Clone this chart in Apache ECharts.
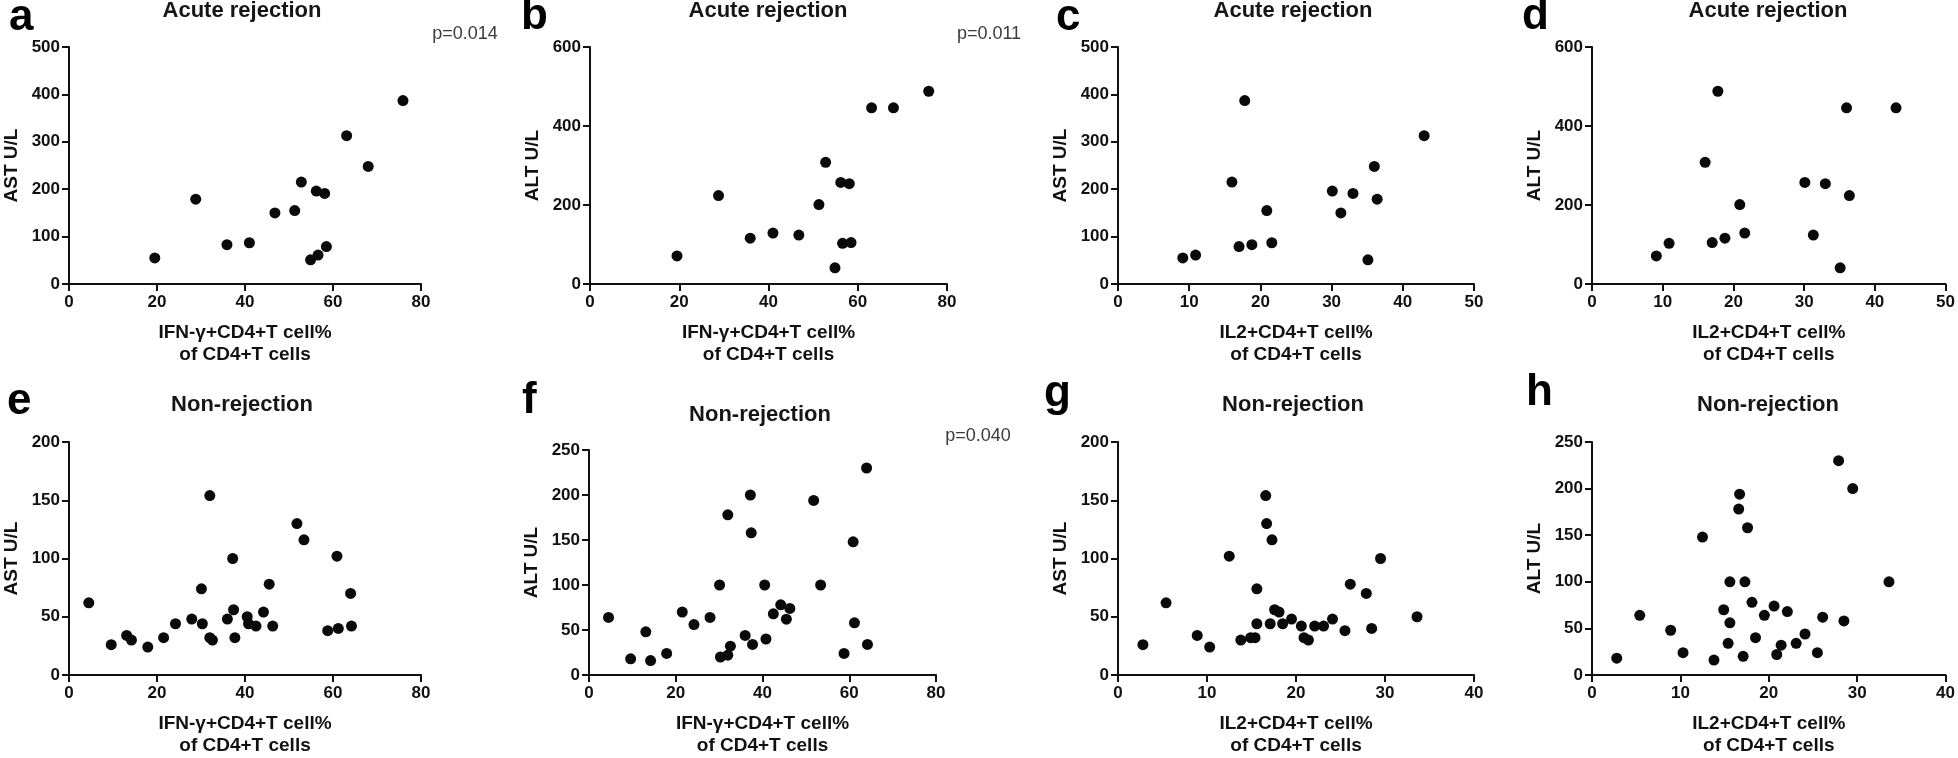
<!DOCTYPE html>
<html>
<head>
<meta charset="utf-8">
<script src="https://cdn.jsdelivr.net/npm/echarts@6/dist/echarts.min.js"></script>
<style>
html,body{margin:0;padding:0;background:#fff;}
#chart{width:1958px;height:758px;}
</style>
</head>
<body>
<div id="chart"></div>
<script>
// ---- Acute rejection group (15 patients) ----
const AR_IFN = [19.5, 28.8, 35.9, 41.0, 46.8, 51.3, 52.8, 56.2, 58.1, 54.9, 56.6, 58.5, 63.1, 68.0, 75.9];
const AR_IL2 = [9.1, 36.4, 18.8, 21.6, 31.3, 20.9, 16.0, 30.1, 33.0, 35.1, 10.9, 17.0, 43.0, 36.0, 17.8];
const AR_AST = [55, 179, 83, 87, 150, 155, 215, 196, 191, 51, 61, 79, 313, 248, 387];
const AR_ALT = [71, 224, 116, 129, 124, 201, 308, 257, 254, 41, 103, 105, 446, 446, 488];

// ---- Non-rejection group (30 patients) ----
const NR_IFN = [4.5, 9.6, 13.1, 14.2, 17.9, 21.5, 24.2, 27.9, 30.1, 30.3, 32.0, 32.0, 32.6, 36.0, 37.2, 37.4, 37.7, 40.5, 40.8, 42.5, 44.2, 45.5, 46.3, 51.8, 53.4, 58.8, 60.9, 61.2, 64.0, 64.2];
const NR_IL2 = [5.4, 2.8, 8.9, 13.8, 10.3, 14.9, 15.6, 19.5, 15.6, 17.1, 16.6, 20.9, 21.4, 24.1, 29.5, 17.6, 15.4, 33.6, 18.5, 22.1, 18.1, 26.1, 20.6, 16.7, 17.3, 25.5, 12.5, 28.5, 27.9, 23.1];
const NR_AST = [62, 26, 34, 30, 24, 32, 44, 48, 74, 44, 154, 32, 30, 48, 100, 56, 32, 50, 44, 42, 54, 78, 42, 130, 116, 38, 102, 40, 70, 42];
const NR_ALT = [64, 18, 48, 16, 24, 70, 56, 64, 100, 20, 178, 22, 32, 44, 200, 158, 34, 100, 40, 68, 78, 62, 74, 194, 100, 24, 148, 58, 230, 34];

// ---- Text ----
const LETTERS = ['a','b','c','d','e','f','g','h'];
const TITLES = ['Acute rejection','Acute rejection','Acute rejection','Acute rejection','Non-rejection','Non-rejection','Non-rejection','Non-rejection'];
const X_NAMES = ['IFN-γ+CD4+T cell%\nof CD4+T cells','IFN-γ+CD4+T cell%\nof CD4+T cells','IL2+CD4+T cell%\nof CD4+T cells','IL2+CD4+T cell%\nof CD4+T cells',
                 'IFN-γ+CD4+T cell%\nof CD4+T cells','IFN-γ+CD4+T cell%\nof CD4+T cells','IL2+CD4+T cell%\nof CD4+T cells','IL2+CD4+T cell%\nof CD4+T cells'];
const Y_NAMES = ['AST U/L','ALT U/L','AST U/L','ALT U/L','AST U/L','ALT U/L','AST U/L','ALT U/L'];
const P_VALUES = ['p=0.014','p=0.011','','','','p=0.040','',''];

// ---- Axis scales (max / interval) ----
const X_MAX = [80, 80, 50, 50, 80, 80, 40, 40];
const X_INT = [20, 20, 10, 10, 20, 20, 10, 10];
const Y_MAX = [500, 600, 500, 600, 200, 250, 200, 250];
const Y_INT = [100, 200, 100, 200, 50, 50, 50, 50];

const PANEL_X = [AR_IFN, AR_IFN, AR_IL2, AR_IL2, NR_IFN, NR_IFN, NR_IL2, NR_IL2];
const PANEL_Y = [AR_AST, AR_ALT, AR_AST, AR_ALT, NR_AST, NR_ALT, NR_AST, NR_ALT];

// ---- Layout (pixels) ----
const GRIDS = [
  {left: 65,   top: 47,  width: 356, height: 237},
  {left: 590,  top: 47,  width: 357, height: 237},
  {left: 1118, top: 47,  width: 356, height: 237},
  {left: 1592, top: 47,  width: 355, height: 237},
  {left: 64,   top: 442, width: 357, height: 237},
  {left: 589,  top: 450, width: 347, height: 232},
  {left: 1118, top: 442, width: 356, height: 237},
  {left: 1592, top: 442, width: 355, height: 237}
];
const LETTER_POS = [[9,18],[521,17],[1056,18],[1522,17],[7,402],[522,401],[1044,394],[1526,393]];
const TITLE_POS = [[242,11],[768,11],[1293,11],[1768,11],[242,405],[760,415],[1293,405],[1768,405]];
const P_POS = [[465,34],[989,34],[0,0],[0,0],[0,0],[978,436],[0,0],[0,0]];

const FONT = '"Liberation Sans", Arial, sans-serif';
const INK = '#111111';

const grid = [], xAxis = [], yAxis = [], series = [], graphic = [];
for (let i = 0; i < 8; i++) {
  grid.push(Object.assign({containLabel: false}, GRIDS[i]));
  const axisCommon = {
    gridIndex: i,
    type: 'value',
    min: 0,
    splitLine: {show: false},
    axisLine: {show: true, onZero: false, lineStyle: {color: INK, width: 2}},
    axisTick: {show: true, inside: false, length: 7, lineStyle: {color: INK, width: 2}},
    axisLabel: {color: INK, fontFamily: FONT, fontWeight: 'bold', fontSize: 17},
    nameLocation: 'middle',
    nameTextStyle: {color: INK, fontFamily: FONT, fontWeight: 'bold', fontSize: 19, lineHeight: 22}
  };
  xAxis.push(Object.assign({}, axisCommon, {
    max: X_MAX[i], interval: X_INT[i],
    name: X_NAMES[i], nameGap: 38,
    axisLabel: Object.assign({}, axisCommon.axisLabel, {margin: 10})
  }));
  yAxis.push(Object.assign({}, axisCommon, {
    max: Y_MAX[i], interval: Y_INT[i],
    name: Y_NAMES[i], nameGap: 46,
    axisLabel: Object.assign({}, axisCommon.axisLabel, {margin: 9})
  }));
  series.push({
    type: 'scatter',
    xAxisIndex: i, yAxisIndex: i,
    symbol: 'circle', symbolSize: 11,
    itemStyle: {color: '#0a0a0a', opacity: 1},
    data: PANEL_X[i].map((x, k) => [x, PANEL_Y[i][k]])
  });
  graphic.push({
    type: 'text', x: LETTER_POS[i][0], y: LETTER_POS[i][1],
    style: {text: LETTERS[i], fill: '#000', font: 'bold 44px ' + FONT, textAlign: 'left', textVerticalAlign: 'middle'}
  });
  graphic.push({
    type: 'text', x: TITLE_POS[i][0], y: TITLE_POS[i][1],
    style: {text: TITLES[i], fill: '#161616', font: 'bold 22px ' + FONT, textAlign: 'center', textVerticalAlign: 'middle'}
  });
  if (P_VALUES[i]) {
    graphic.push({
      type: 'text', x: P_POS[i][0], y: P_POS[i][1],
      style: {text: P_VALUES[i], fill: '#3a3a3a', font: '18px ' + FONT, textAlign: 'center', textVerticalAlign: 'middle'}
    });
  }
}

const chart = echarts.init(document.getElementById('chart'), null, {renderer: 'canvas'});
chart.setOption({
  backgroundColor: '#ffffff',
  animation: false,
  grid, xAxis, yAxis, series, graphic
});
</script>
</body>
</html>
